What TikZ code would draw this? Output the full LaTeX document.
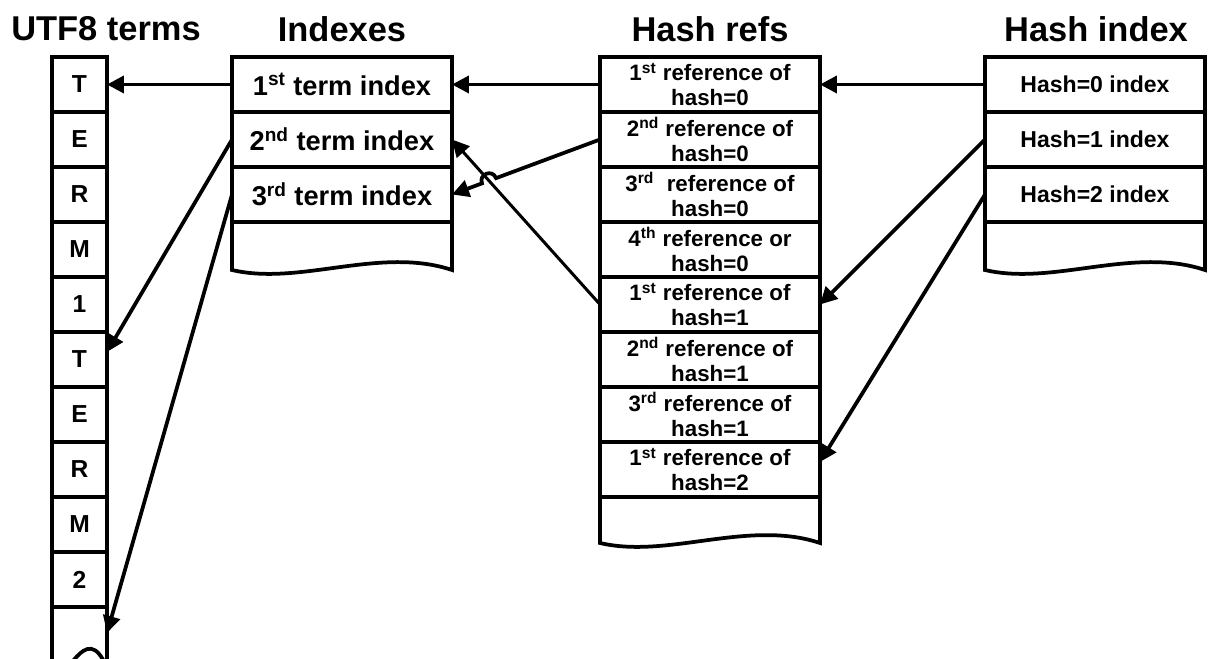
\documentclass[tikz,border=0pt]{standalone}
\usepackage{fontspec}
\setmainfont{Liberation Sans}
\usetikzlibrary{arrows.meta,positioning,calc,intersections}
\definecolor{ink}{HTML}{000000}
\tikzset{
  cell/.style={draw=ink,line width=0.075cm,outer sep=0pt,inner sep=0pt,minimum height=1.1cm,align=center},
  letter/.style={cell,minimum width=1.1cm,font=\bfseries\fontsize{14}{16}\selectfont},
  termidx/.style={cell,minimum width=4.4cm,font=\bfseries\fontsize{15.5}{18}\selectfont},
  hashref/.style={cell,minimum width=4.4cm,font=\bfseries\fontsize{12.7}{14.2}\selectfont},
  hashidx/.style={cell,minimum width=4.4cm,font=\bfseries\fontsize{13.1}{15}\selectfont},
  tail/.style={outer sep=0pt,inner sep=0pt},
  edge/.style={draw=ink,line width=0.075cm},
  title/.style={font=\bfseries\fontsize{19.6}{23}\selectfont},
  ptr/.style={-{Triangle[length=3.4mm,width=3.4mm]},line width=0.075cm,draw=ink}
}
\begin{document}
\begin{tikzpicture}[x=0.02cm,y=-0.02cm]
  \useasboundingbox (0,0) rectangle (1210,659);
  \clip (0,0) rectangle (1210,659);
  % titles
  \node[title] (utftitle) at (106,29) {UTF8 terms};
  \node[title] (idxtitle) at (342,29) {Indexes};
  \node[title] (reftitle) at (710,29) {Hash refs};
  \node[title] (hashtitle) at (1096,29) {Hash index};
  % UTF8 terms
  \node[letter] (t1) at (79.5,84.5) {T};
  \node[letter] (t2) at (79.5,139.5) {E};
  \node[letter] (t3) at (79.5,194.5) {R};
  \node[letter] (t4) at (79.5,249.5) {M};
  \node[letter] (t5) at (79.5,304.5) {1};
  \node[letter] (t6) at (79.5,359.5) {T};
  \node[letter] (t7) at (79.5,414.5) {E};
  \node[letter] (t8) at (79.5,469.5) {R};
  \node[letter] (t9) at (79.5,524.5) {M};
  \node[letter] (t10) at (79.5,579.5) {2};
  \node[tail,minimum width=1.1cm,minimum height=1.04cm] (t11) at (79.5,633) {};
  \draw[edge] (t11.north west) -- ($(t11.south west)+(0,13)$)
    .. controls ($(t11.south west)+(14,31)$) and ($(t11.south east)+(-22,-44)$) .. ($(t11.south east)+(0,9)$)
    -- (t11.north east);
  % term indexes
  \node[termidx] (i1) at (342,84.5) {1\textsuperscript{st} term index};
  \node[termidx] (i2) at (342,139.5) {2\textsuperscript{nd} term index};
  \node[termidx] (i3) at (342,194.5) {3\textsuperscript{rd} term index};
  \node[tail,minimum width=4.4cm,minimum height=0.96cm] (i4) at (342,246) {};
  \draw[edge] (i4.north west) -- (i4.south west)
    .. controls ($(i4.south west)+(68,16)$) and ($(i4.south east)+(-72,-24)$) .. (i4.south east)
    -- (i4.north east);
  % hash refs
  \node[hashref] (h1) at (710,84.5) {1\textsuperscript{st} reference of\\hash=0};
  \node[hashref] (h2) at (710,139.5) {2\textsuperscript{nd} reference of\\hash=0};
  \node[hashref] (h3) at (710,194.5) {3\textsuperscript{rd}~ reference of\\hash=0};
  \node[hashref] (h4) at (710,249.5) {4\textsuperscript{th} reference or\\hash=0};
  \node[hashref] (h5) at (710,304.5) {1\textsuperscript{st} reference of\\hash=1};
  \node[hashref] (h6) at (710,359.5) {2\textsuperscript{nd} reference of\\hash=1};
  \node[hashref] (h7) at (710,414.5) {3\textsuperscript{rd} reference of\\hash=1};
  \node[hashref] (h8) at (710,469.5) {1\textsuperscript{st} reference of\\hash=2};
  \node[tail,minimum width=4.4cm,minimum height=0.92cm] (h9) at (710,520) {};
  \draw[edge] (h9.north west) -- (h9.south west)
    .. controls ($(h9.south west)+(68,16)$) and ($(h9.south east)+(-72,-24)$) .. (h9.south east)
    -- (h9.north east);
  % hash index
  \node[hashidx] (x1) at (1095,84.5) {Hash=0 index};
  \node[hashidx] (x2) at (1095,139.5) {Hash=1 index};
  \node[hashidx] (x3) at (1095,194.5) {Hash=2 index};
  \node[tail,minimum width=4.4cm,minimum height=0.96cm] (x4) at (1095,246) {};
  \draw[edge] (x4.north west) -- (x4.south west)
    .. controls ($(x4.south west)+(68,16)$) and ($(x4.south east)+(-72,-24)$) .. (x4.south east)
    -- (x4.north east);
  % pointers
  \draw[ptr] (i1.west) -- (t1.east);
  \draw[ptr] (h1.west) -- (i1.east);
  \draw[ptr] (x1.west) -- (h1.east);
  \draw[ptr] (i2.west) -- ([yshift=0.15cm]t6.east);
  \draw[ptr] (i3.west) -- (t11.east);
  \draw[ptr,line width=0.06cm,name path=back] (h5.west) -- (i2.east);
  \path[name path=fwd] (h2.west) -- (i3.east);
  \path[name intersections={of=back and fwd,by=hop}];
  \draw[ptr] (h2.west) -- ($(hop)!0.15cm!(h2.west)$)
    to[bend right=90,looseness=1.7] ($(hop)!0.15cm!(i3.east)$) -- (i3.east);
  \draw[ptr] (x2.west) -- (h5.east);
  \draw[ptr] (x3.west) -- ([yshift=0.15cm]h8.east);
\end{tikzpicture}
\end{document}
